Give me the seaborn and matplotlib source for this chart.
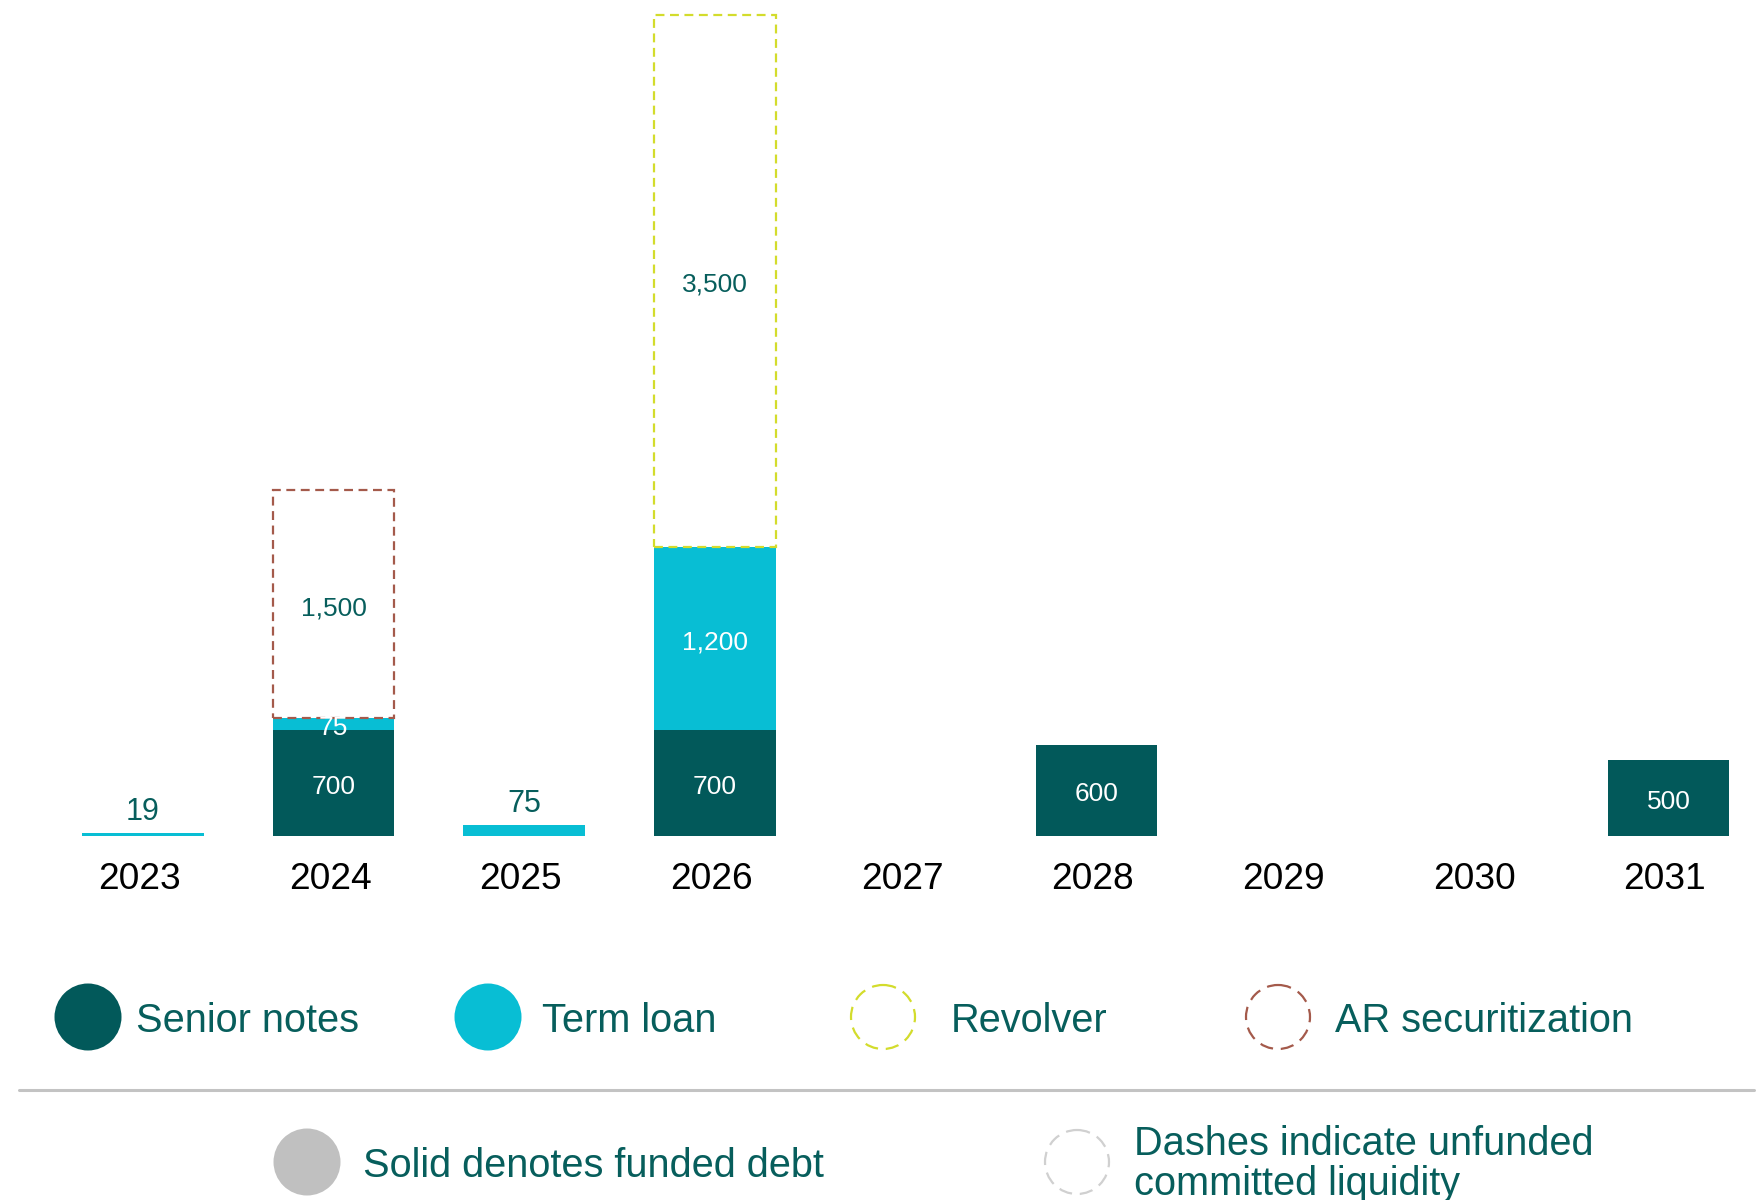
import numpy as np
import pandas as pd
import seaborn as sns
import matplotlib.pyplot as plt
from matplotlib.patches import Circle
from matplotlib.transforms import ScaledTranslation

# Debt maturity profile ($M)
years = ['2023', '2024', '2025', '2026', '2027', '2028', '2029', '2030', '2031']
senior_notes = [0, 700, 0, 700, 0, 600, 0, 0, 500]
term_loan = [19, 75, 75, 1200, 0, 0, 0, 0, 0]
revolver = [0, 0, 0, 3500, 0, 0, 0, 0, 0]
ar_securitization = [0, 1500, 0, 0, 0, 0, 0, 0, 0]

TEAL = '#02595A'
CYAN = '#08BED4'
LIME = '#D3DC2C'
BROWN = '#A45A4B'
TEXT = '#075E5C'

sns.set_style('white')
plt.rcParams['font.family'] = ['Liberation Sans', 'DejaVu Sans']

fig = plt.figure(figsize=(17.63, 12), dpi=100)
ax = fig.add_axes([0, 364 / 1200, 1, 836 / 1200])

series = [
    ('Senior notes', senior_notes, TEAL, 'solid'),
    ('Term loan', term_loan, CYAN, 'solid'),
    ('Revolver', revolver, LIME, 'dashed'),
    ('AR securitization', ar_securitization, BROWN, 'dashed'),
]

bottom = np.zeros(len(years))
for name, vals, color, style in series:
    vals = np.array(vals, dtype=float)
    mask = vals > 0
    df = pd.DataFrame({'Year': np.array(years)[mask], 'Value': vals[mask]})
    n0 = len(ax.patches)
    sns.barplot(data=df, x='Year', y='Value', order=years, bottom=bottom[mask],
                width=0.637, color=color, saturation=1, errorbar=None, ax=ax)
    for p in ax.patches[n0:]:
        if style == 'dashed':
            p.set_facecolor('none')
            p.set_edgecolor(color)
            p.set_linestyle((0, (4, 2.5)))
            p.set_linewidth(1.6)
            p.set_zorder(3)
        else:
            p.set_linewidth(0)

    # value labels
    for i in np.where(mask)[0]:
        v = vals[i]
        if style == 'solid' and bottom[i] == 0 and name == 'Term loan':
            ax.annotate(f'{int(v):,}', (i, v), xytext=(0, 21), textcoords='offset pixels',
                        ha='center', va='center', fontsize=22, color=TEXT)
        else:
            ax.annotate(f'{int(v):,}', (i, bottom[i] + v / 2), xytext=(0, -4),
                        textcoords='offset pixels', ha='center', va='center', fontsize=19,
                        color='white' if style == 'solid' else TEXT, zorder=4)
    bottom = bottom + vals

ax.set_xlim(-0.749, 8.496)
ax.set_ylim(0, 5496)
ax.set_xlabel('')
ax.set_ylabel('')
ax.set_yticks([])
ax.tick_params(axis='x', length=0, pad=18.5, labelsize=26.7, labelcolor='black')
# year labels sit a touch left of the bar centres in the original
shift = ScaledTranslation(-3.5 / 100, 0, fig.dpi_scale_trans)
for lbl in ax.get_xticklabels():
    lbl.set_transform(lbl.get_transform() + shift)
sns.despine(ax=ax, left=True, bottom=True)

# legend drawn in pixel coordinates
lax = fig.add_axes([0, 0, 1, 1])
lax.set_xlim(0, 1763)
lax.set_ylim(1200, 0)
lax.axis('off')

legend_items = [
    ('Senior notes', TEAL, 'solid', 88, 136),
    ('Term loan', CYAN, 'solid', 488, 542),
    ('Revolver', LIME, 'dashed', 883, 951),
    ('AR securitization', BROWN, 'dashed', 1278, 1335),
]
for label, color, style, cx, tx in legend_items:
    if style == 'solid':
        lax.add_patch(Circle((cx, 1017), 33.5, facecolor=color, edgecolor='none'))
    else:
        lax.add_patch(Circle((cx, 1017), 32, facecolor='none', edgecolor=color,
                             linewidth=1.6, linestyle=(0, (6, 3.5))))
    lax.text(tx, 1021, label, ha='left', va='center', fontsize=28.6, color=TEXT)

lax.plot([19, 1754], [1090, 1090], color='#C3C3C3', linewidth=2.2)

lax.add_patch(Circle((307, 1162), 33.5, facecolor='#C0C0C0', edgecolor='none'))
lax.text(363, 1166, 'Solid denotes funded debt', ha='left', va='center', fontsize=28.6, color=TEXT)
lax.add_patch(Circle((1077, 1162), 32, facecolor='none', edgecolor='#D0D0D0',
                     linewidth=1.6, linestyle=(0, (6, 3.5))))
lax.text(1134, 1164, 'Dashes indicate unfunded\ncommitted liquidity', ha='left', va='center',
         fontsize=28.6, color=TEXT, linespacing=1.09)

fig.savefig('out.png', dpi=100)
